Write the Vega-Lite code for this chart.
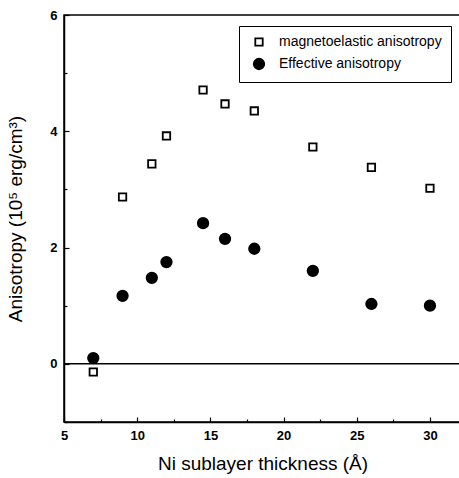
{
  "$schema": "https://vega.github.io/schema/vega-lite/v6.json",
  "autosize": "none",
  "padding": {"left": 64, "top": 15, "right": 0, "bottom": 56},
  "width": 397,
  "height": 407,
  "background": "white",
  "config": {
    "view": {"stroke": "black", "strokeWidth": 1.5},
    "font": "Liberation Sans",
    "axis": {"grid": false, "domainColor": "black", "domainWidth": 1.5, "tickColor": "black", "tickWidth": 1.2, "labelFont": "Liberation Sans", "labelFontWeight": "bold", "labelFontSize": 13, "labelColor": "black", "titleFont": "Liberation Sans", "titleFontWeight": "normal", "titleFontSize": 19, "titleColor": "black"},
    "legend": {"strokeColor": "black", "padding": 9, "symbolOffset": 4, "labelFontSize": 14, "labelLimit": 300, "labelFont": "Liberation Sans", "labelColor": "black", "symbolStrokeColor": "black", "symbolStrokeWidth": 1.8, "rowPadding": 5, "labelOffset": 13, "offset": 0}
  },
  "datasets": {
    "pts": [
      {"t": 7, "a": -0.14, "series": "magnetoelastic anisotropy"},
      {"t": 9, "a": 2.87, "series": "magnetoelastic anisotropy"},
      {"t": 11, "a": 3.44, "series": "magnetoelastic anisotropy"},
      {"t": 12, "a": 3.92, "series": "magnetoelastic anisotropy"},
      {"t": 14.5, "a": 4.71, "series": "magnetoelastic anisotropy"},
      {"t": 16, "a": 4.47, "series": "magnetoelastic anisotropy"},
      {"t": 18, "a": 4.35, "series": "magnetoelastic anisotropy"},
      {"t": 22, "a": 3.73, "series": "magnetoelastic anisotropy"},
      {"t": 26, "a": 3.38, "series": "magnetoelastic anisotropy"},
      {"t": 30, "a": 3.02, "series": "magnetoelastic anisotropy"},
      {"t": 7, "a": 0.1, "series": "Effective anisotropy"},
      {"t": 9, "a": 1.17, "series": "Effective anisotropy"},
      {"t": 11, "a": 1.48, "series": "Effective anisotropy"},
      {"t": 12, "a": 1.75, "series": "Effective anisotropy"},
      {"t": 14.5, "a": 2.42, "series": "Effective anisotropy"},
      {"t": 16, "a": 2.15, "series": "Effective anisotropy"},
      {"t": 18, "a": 1.98, "series": "Effective anisotropy"},
      {"t": 22, "a": 1.6, "series": "Effective anisotropy"},
      {"t": 26, "a": 1.03, "series": "Effective anisotropy"},
      {"t": 30, "a": 1.0, "series": "Effective anisotropy"}
    ],
    "zero": [{"a": 0}]
  },
  "layer": [
    {
      "data": {"name": "zero"},
      "mark": {"type": "rule", "color": "black", "strokeWidth": 1.5},
      "encoding": {"y": {"field": "a", "type": "quantitative"}}
    },
    {
      "data": {"name": "pts"},
      "mark": {"type": "point", "strokeWidth": 1.8, "opacity": 1},
      "encoding": {
        "x": {"field": "t", "type": "quantitative", "scale": {"domain": [5, 32.12], "nice": false, "zero": false},
          "axis": {"title": "Ni sublayer thickness (Å)", "values": [5, 7.5, 10, 12.5, 15, 17.5, 20, 22.5, 25, 27.5, 30],
            "format": "~g",
            "labelExpr": "datum.value % 5 === 0 ? datum.label : ''",
            "tickSize": {"condition": {"test": "datum.value % 5 === 0", "value": -5}, "value": -3},
            "labelPadding": 12, "titlePadding": 12, "labelFlush": false}},
        "y": {"field": "a", "type": "quantitative", "scale": {"domain": [-1, 6], "nice": false},
          "axis": {"title": "Anisotropy (10⁵ erg/cm³)", "values": [-1, 0, 1, 2, 3, 4, 5, 6],
            "format": "~g",
            "labelExpr": "datum.value % 2 === 0 ? datum.label : ''",
            "tickSize": {"condition": {"test": "datum.value % 2 === 0", "value": -5}, "value": -3},
            "labelPadding": 12, "titlePadding": 24, "labelFlush": false}},
        "shape": {"field": "series", "type": "nominal", "scale": {"domain": ["magnetoelastic anisotropy", "Effective anisotropy"], "range": ["square", "circle"]},
          "legend": {"title": null, "orient": "none", "legendX": 175, "legendY": 11}},
        "fill": {"field": "series", "type": "nominal", "scale": {"domain": ["magnetoelastic anisotropy", "Effective anisotropy"], "range": ["white", "black"]},
          "legend": {"title": null, "orient": "none", "legendX": 175, "legendY": 11}},
        "stroke": {"field": "series", "type": "nominal", "scale": {"domain": ["magnetoelastic anisotropy", "Effective anisotropy"], "range": ["black", "black"]},
          "legend": {"title": null, "orient": "none", "legendX": 175, "legendY": 11}},
        "size": {"field": "series", "type": "nominal", "scale": {"domain": ["magnetoelastic anisotropy", "Effective anisotropy"], "range": [55, 110]},
          "legend": {"title": null, "orient": "none", "legendX": 175, "legendY": 11}}
      }
    }
  ]
}
